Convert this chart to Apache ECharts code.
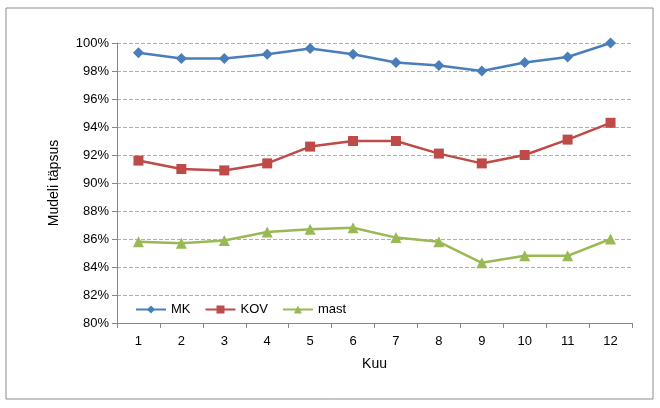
<!DOCTYPE html>
<html><head><meta charset="utf-8">
<script src="https://cdn.jsdelivr.net/npm/echarts@6/dist/echarts.min.js"></script>
<style>html,body{margin:0;padding:0;background:#fff}#c{width:660px;height:408px}</style>
</head><body><div id="c"></div>
<script>
const categories=['1','2','3','4','5','6','7','8','9','10','11','12'];
const mk=[99.3,98.9,98.9,99.2,99.6,99.2,98.6,98.4,98.0,98.6,99.0,100.0];
const kov=[91.6,91.0,90.9,91.4,92.6,93.0,93.0,92.1,91.4,92.0,93.1,94.3];
const mast=[85.8,85.7,85.9,86.5,86.7,86.8,86.1,85.8,84.3,84.8,84.8,86.0];
const font='Liberation Sans';
const chart=echarts.init(document.getElementById('c'));
chart.setOption({
  textStyle:{fontFamily:font},
  graphic:[{type:'rect',shape:{x:6,y:8,width:647,height:391},style:{fill:'none',stroke:'#8c8c8c',lineWidth:1}}],
  grid:{left:117,right:28,top:43,bottom:85},
  legend:{left:130,top:298,itemGap:14,itemWidth:30,itemHeight:10,
    textStyle:{fontSize:13,color:'#000',fontFamily:font},
    data:['MK','KOV','mast']},
  xAxis:{type:'category',data:categories,name:'Kuu',nameLocation:'middle',nameGap:34,
    nameTextStyle:{fontSize:14,color:'#000'},
    axisLine:{lineStyle:{color:'#868686'}},axisTick:{show:true,alignWithLabel:false,lineStyle:{color:'#868686'}},
    axisLabel:{fontSize:13,color:'#000',margin:12}},
  yAxis:{type:'value',min:80,max:100,interval:2,name:'Mudeli täpsus',nameLocation:'middle',nameGap:56,
    nameTextStyle:{fontSize:14,color:'#000'},
    axisLine:{show:true,lineStyle:{color:'#868686'}},axisTick:{show:true,lineStyle:{color:'#868686'}},
    axisLabel:{fontSize:13,color:'#000',formatter:'{value}%'},
    splitLine:{lineStyle:{color:'#b5b57a',type:'dashed'}}},
  series:[
    {name:'MK',type:'line',data:mk,symbol:'diamond',symbolSize:11,color:'#4a7ebb',lineStyle:{width:2.5,color:'#4a7ebb'},itemStyle:{color:'#4a7ebb'}},
    {name:'KOV',type:'line',data:kov,symbol:'rect',symbolSize:10,color:'#be4b48',lineStyle:{width:2.5,color:'#be4b48'},itemStyle:{color:'#be4b48'}},
    {name:'mast',type:'line',data:mast,symbol:'triangle',symbolSize:11,color:'#98b954',lineStyle:{width:2.5,color:'#98b954'},itemStyle:{color:'#98b954'}}
  ]
});
</script></body></html>
